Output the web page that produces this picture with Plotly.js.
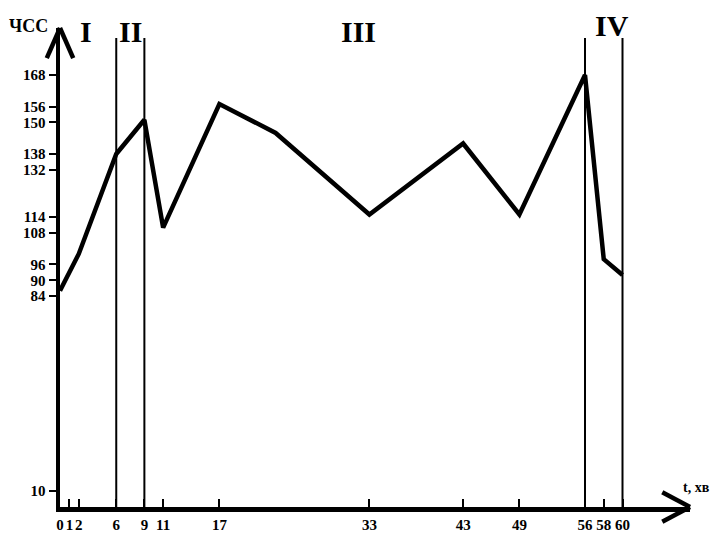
<!DOCTYPE html>
<html>
<head>
<meta charset="utf-8">
<script src="https://cdn.plot.ly/plotly-3.0.1.min.js"></script>
<style>html,body{margin:0;padding:0;background:#fff;}#chart{width:720px;height:540px;}</style>
</head>
<body>
<div id="chart"></div>
<script>
// Time, minutes
const timeMin = [0, 2, 6, 9, 11, 17, 23, 33, 43, 49, 56, 58, 60];
// Heart rate (ЧСС)
const heartRate = [86, 100, 138, 151, 110, 157, 146, 115, 142, 115, 168, 98, 92];
// Phase boundaries (minutes)
const phaseBounds = [6, 9, 56, 60];
// Phase labels and their centre times
const phaseLabels = ["I", "II", "III", "IV"];
const phaseLabelX = [2.8, 7.5, 31.8, 58.9];
// Tick values
const xTicks = [0, 1, 2, 6, 9, 11, 17, 33, 43, 49, 56, 58, 60];
const yTicks = [10, 84, 90, 96, 108, 114, 132, 138, 150, 156, 168];

const serif = "Liberation Serif, Times New Roman, serif";

const trace = {
  x: timeMin, y: heartRate, mode: "lines", type: "scatter",
  line: {color: "#000", width: 4.5}, hoverinfo: "skip", cliponaxis: false
};

const shapes = phaseBounds.map(t => ({
  type: "line", xref: "x", yref: "paper", x0: t, x1: t, y0: 0, y1: 0.979,
  line: {color: "#000", width: 2}
}));
// arrow heads of the axes
const ah = [
  {x0: 1.0, y0: 0, x1: 0.956, y1: 0.031},
  {x0: 1.0, y0: 0, x1: 0.956, y1: -0.031},
  {x0: 0, y0: 1.0, x1: -0.021, y1: 0.937},
  {x0: 0, y0: 1.0, x1: 0.021, y1: 0.937}
];
ah.forEach(a => shapes.push({type: "line", xref: "paper", yref: "paper",
  x0: a.x0, y0: a.y0, x1: a.x1, y1: a.y1, line: {color: "#000", width: 4.5}}));

const annotations = phaseLabels.map((s, i) => ({
  text: s, x: phaseLabelX[i], xref: "x", y: (i === 3 ? 1.005 : 0.993), yref: "paper",
  showarrow: false, xanchor: "center", yanchor: "middle",
  font: {family: serif, size: 30, color: "#000", weight: "bold"}
}));
annotations.push({text: "ЧСС", xref: "paper", yref: "paper", x: -0.05, y: 1.005,
  showarrow: false, xanchor: "center", yanchor: "middle",
  font: {family: serif, size: 18, color: "#000", weight: "bold"}});
annotations.push({text: "t, хв", xref: "paper", yref: "paper", x: 0.985, y: 0.04,
  showarrow: false, xanchor: "left", yanchor: "middle",
  font: {family: serif, size: 14, color: "#000", weight: "bold"}});

const layout = {
  width: 720, height: 540,
  margin: {l: 60, r: 30, t: 28, b: 33},
  paper_bgcolor: "#fff", plot_bgcolor: "#fff",
  showlegend: false,
  font: {family: serif, color: "#000"},
  xaxis: {
    range: [0, 67.2], tickmode: "array", tickvals: xTicks, ticktext: xTicks.map(String),
    tickangle: 0,
    showgrid: false, zeroline: false, showline: true, linewidth: 4.5, linecolor: "#000",
    ticks: "inside", ticklen: 8, tickwidth: 2, tickcolor: "#000",
    tickfont: {family: serif, size: 15, color: "#000", weight: "bold"}, fixedrange: true
  },
  yaxis: {
    range: [3.8, 185.9], tickmode: "array", tickvals: yTicks, ticktext: yTicks.map(String),
    showgrid: false, zeroline: false, showline: true, linewidth: 4.5, linecolor: "#000",
    ticks: "outside", ticklen: 7, tickwidth: 2, tickcolor: "#000",
    tickfont: {family: serif, size: 15, color: "#000", weight: "bold"}, fixedrange: true
  },
  shapes: shapes,
  annotations: annotations
};

Plotly.newPlot("chart", [trace], layout, {displayModeBar: false, staticPlot: true});
</script>
</body>
</html>
